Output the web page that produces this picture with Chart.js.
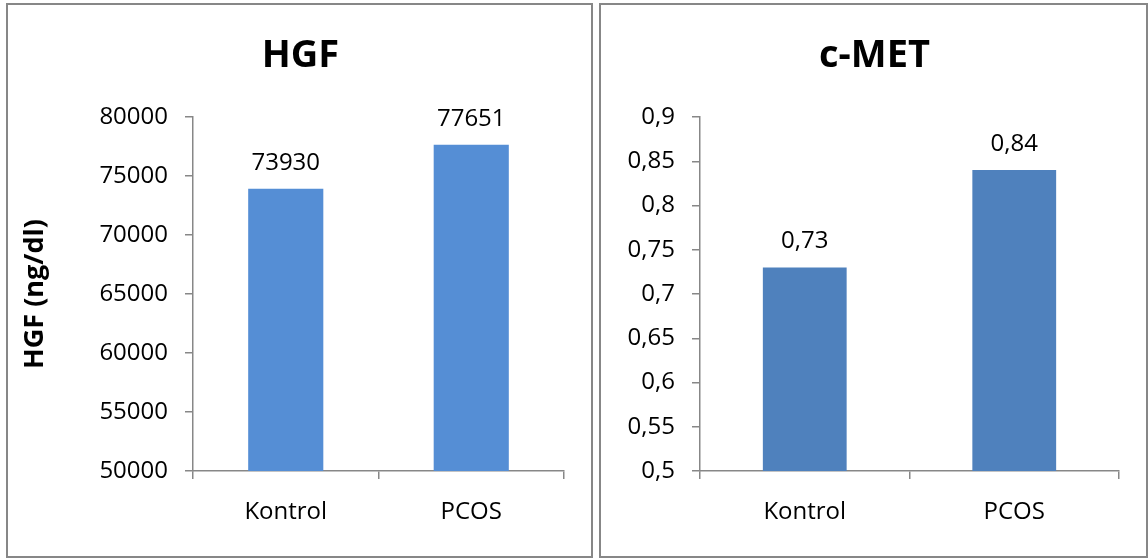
<!DOCTYPE html>
<html>
<head>
<meta charset="utf-8">
<script src="https://cdn.jsdelivr.net/npm/chart.js@4.4.1/dist/chart.umd.min.js"></script>
<style>
  html, body { margin: 0; padding: 0; background: #fff; }
  body { width: 1148px; height: 558px; position: relative; overflow: hidden; }
  .panel { position: absolute; border: 2px solid #878787; background: #fff; }
  #p1 { left: 6px; top: 3px; width: 583px; height: 551px; }
  #p2 { left: 599px; top: 3px; width: 545px; height: 551px; }
  canvas { display: block; }
</style>
</head>
<body>
<div class="panel" id="p1"><canvas id="c1" width="583" height="551"></canvas></div>
<div class="panel" id="p2"><canvas id="c2" width="545" height="551"></canvas></div>
<script>
// Groups
const categories = ['Kontrol', 'PCOS'];

// HGF (ng/dl)
const hgfValues = [73930, 77651];
const hgfTicks = [50000, 55000, 60000, 65000, 70000, 75000, 80000];

// c-MET
const metValues = [0.73, 0.84];
const metTicks = [0.5, 0.55, 0.6, 0.65, 0.7, 0.75, 0.8, 0.85, 0.9];

const FONT = "'Open Sans', 'Liberation Sans', sans-serif";
const AXIS = '#878787';
const comma = v => String(v).replace('.', ',');

// Writes each bar's value above it
const valueLabels = {
  id: 'valueLabels',
  afterDatasetsDraw(chart, args, opts) {
    const ctx = chart.ctx;
    const ds = chart.data.datasets[0];
    const meta = chart.getDatasetMeta(0);
    ctx.save();
    ctx.font = '24px ' + FONT;
    ctx.fillStyle = '#000';
    ctx.textAlign = 'center';
    ctx.textBaseline = 'alphabetic';
    meta.data.forEach((bar, i) => {
      ctx.fillText(opts.format(ds.data[i]), bar.x, bar.y - 19);
    });
    ctx.restore();
  }
};

// Panel heading, centred across the whole panel
const panelTitle = {
  id: 'panelTitle',
  afterDraw(chart, args, opts) {
    const ctx = chart.ctx;
    ctx.save();
    ctx.font = 'bold 38px ' + FONT;
    ctx.fillStyle = '#000';
    ctx.textAlign = 'center';
    ctx.textBaseline = 'alphabetic';
    ctx.fillText(opts.text, chart.width / 2 + 1, 62);
    ctx.restore();
  }
};

function makeChart(id, cfg) {
  return new Chart(document.getElementById(id), {
    type: 'bar',
    data: {
      labels: categories,
      datasets: [{
        data: cfg.values,
        backgroundColor: cfg.color,
        borderWidth: 0,
        categoryPercentage: 1,
        barPercentage: cfg.barPct
      }]
    },
    plugins: [valueLabels, panelTitle],
    options: {
      responsive: false,
      animation: false,
      events: [],
      layout: { padding: { left: 0, right: 27, top: 112, bottom: 0 } },
      plugins: {
        legend: { display: false },
        tooltip: { enabled: false },
        title: { display: false },
        panelTitle: { text: cfg.title },
        valueLabels: { format: cfg.format }
      },
      scales: {
        x: {
          grid: { display: true, drawOnChartArea: false, drawTicks: true, tickLength: 8, color: AXIS, lineWidth: 1.5, offset: true },
          border: { display: true, color: AXIS, width: 1.5 },
          ticks: { color: '#000', font: { family: FONT, size: 24 }, padding: 19, maxRotation: 0 },
          afterFit(scale) { scale.height = 85; }
        },
        y: {
          min: cfg.ticks[0],
          max: cfg.ticks[cfg.ticks.length - 1],
          afterBuildTicks(scale) { scale.ticks = cfg.ticks.map(v => ({ value: v })); },
          grid: { display: true, drawOnChartArea: false, drawTicks: true, tickLength: 8, color: AXIS, lineWidth: 1.5 },
          border: { display: true, color: AXIS, width: 1.5 },
          ticks: { color: '#000', font: { family: FONT, size: 24 }, padding: 17, callback: v => cfg.format(v) },
          title: cfg.yTitle ? {
            display: true,
            text: cfg.yTitle,
            color: '#000',
            font: { family: FONT, size: 27, weight: 'bold', lineHeight: 1.2 },
            padding: { top: 11, bottom: 0 }
          } : { display: false },
          afterFit(scale) { scale.width = cfg.axisWidth; }
        }
      }
    }
  });
}

makeChart('c1', {
  title: 'HGF',
  yTitle: 'HGF (ng/dl)',
  values: hgfValues,
  ticks: hgfTicks,
  color: '#558ED5',
  barPct: 0.405,
  axisWidth: 185,
  format: v => String(v)
});

makeChart('c2', {
  title: 'c-MET',
  yTitle: null,
  values: metValues,
  ticks: metTicks,
  color: '#4F81BD',
  barPct: 0.40,
  axisWidth: 99,
  format: comma
});
</script>
</body>
</html>
